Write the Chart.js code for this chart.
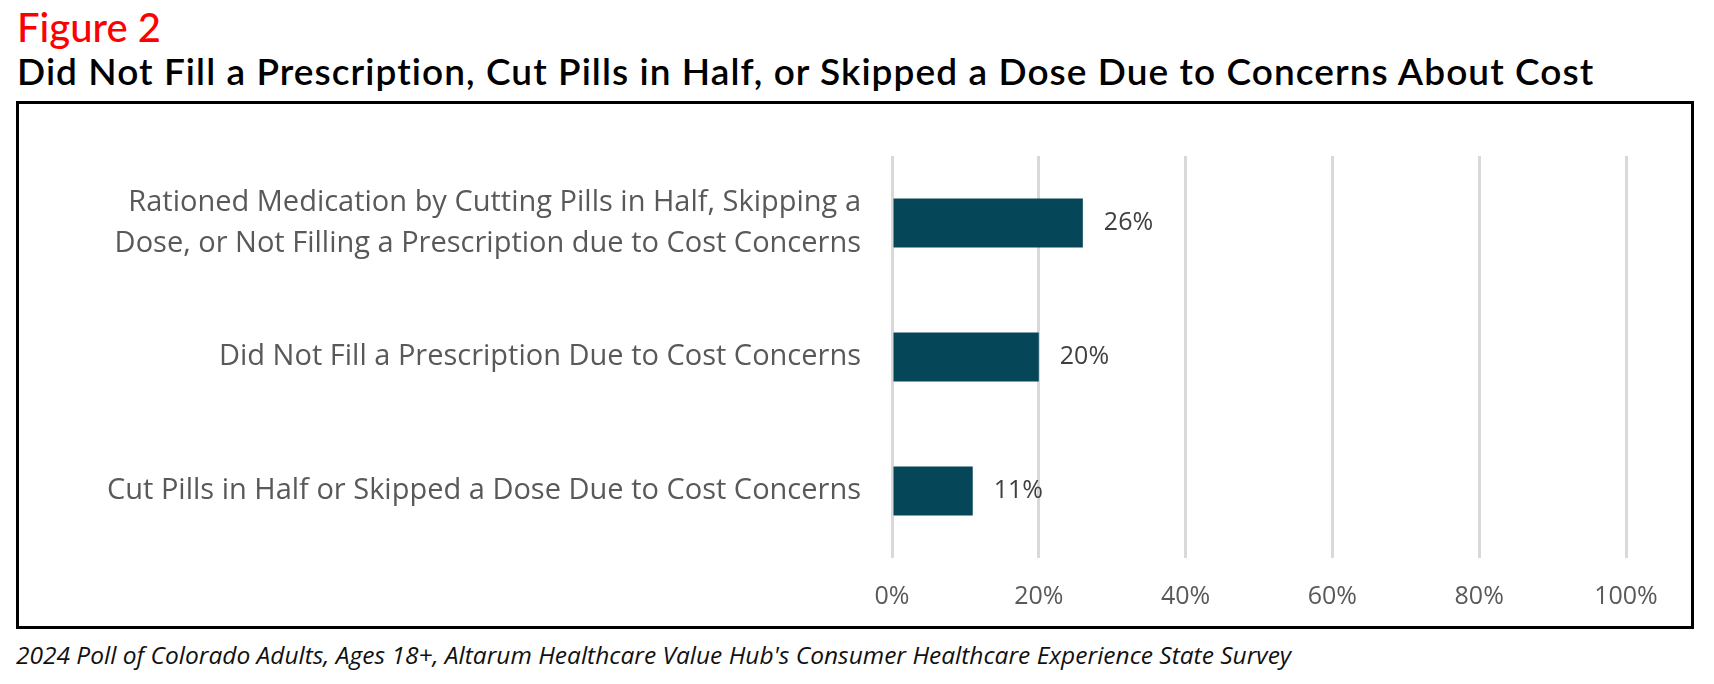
<!DOCTYPE html>
<html>
<head>
<meta charset="utf-8">
<script src="https://cdn.jsdelivr.net/npm/chart.js@4.4.1/dist/chart.umd.min.js"></script>
<style>
html, body { margin: 0; padding: 0; background: #fff; }
#page { position: relative; width: 1714px; height: 684px; overflow: hidden; }
.txt { position: absolute; white-space: nowrap; line-height: 1.2; }
#fig { left: 17px; top: 3px; font-family: Lato; font-size: 40px; font-weight: 500; color: #ff0000; }
#ttl { left: 17px; top: 49px; font-family: Lato; font-size: 37px; font-weight: 600; color: #000; }
#frame { position: absolute; left: 16px; top: 101px; width: 1678px; height: 528px; border: 3px solid #000; box-sizing: border-box; }
#note { left: 16px; top: 640px; font-family: "Open Sans"; font-style: italic; font-size: 24.5px; color: #111; }
#cv { position: absolute; left: 0; top: 0; }
</style>
</head>
<body>
<div id="page">
  <div class="txt" id="fig">Figure 2</div>
  <div class="txt" id="ttl">Did Not Fill a Prescription, Cut Pills in Half, or Skipped a Dose Due to Concerns About Cost</div>
  <div id="frame"></div>
  <div class="txt" id="note">2024 Poll of Colorado Adults, Ages 18+, Altarum Healthcare Value Hub's Consumer Healthcare Experience State Survey</div>
  <canvas id="cv" width="1714" height="684"></canvas>
</div>
<script>
// data
const categories = [
  ['Rationed Medication by Cutting Pills in Half, Skipping a', 'Dose, or Not Filling a Prescription due to Cost Concerns'],
  'Did Not Fill a Prescription Due to Cost Concerns',
  'Cut Pills in Half or Skipped a Dose Due to Cost Concerns'
];
const shares = [26, 20, 11];
const xTicks = [0, 20, 40, 60, 80, 100];

var barColor = '#064659';

// stretch the heading to the width it has in the original
var fitWidth = function (el, target) {
  var w = el.getBoundingClientRect().width;
  var n = el.textContent.length;
  el.style.letterSpacing = ((target - w) / n) + 'px';
};
fitWidth(document.getElementById('ttl'), 1578);

// percent labels at the end of each bar
const barLabels = {
  id: 'barLabels',
  afterDatasetsDraw(chart) {
    var c = chart.ctx;
    var meta = chart.getDatasetMeta(0);
    c.save();
    c.font = '25px "Open Sans"';
    c.fillStyle = '#404040';
    c.textBaseline = 'middle';
    c.textAlign = 'left';
    meta.data.forEach(function (bar, i) {
      c.fillText(shares[i] + '%', bar.x + 21, bar.y);
    });
    c.restore();
  }
};

new Chart(document.getElementById('cv'), {
  type: 'bar',
  data: {
    labels: categories,
    datasets: [{
      data: shares,
      backgroundColor: barColor,
      borderWidth: 0,
      categoryPercentage: 1,
      barPercentage: 0.365
    }]
  },
  options: {
    indexAxis: 'y',
    responsive: false,
    animation: false,
    devicePixelRatio: 1,
    layout: { padding: { left: 0, top: 156, right: 88, bottom: 0 } },
    plugins: {
      legend: { display: false },
      tooltip: { enabled: false }
    },
    scales: {
      x: {
        min: 0,
        max: 100,
        afterBuildTicks: function (s) { s.ticks = xTicks.map(function (v) { return { value: v }; }); },
        afterFit: function (s) { s.height = 126; },
        ticks: {
          callback: function (v) { return v + '%'; },
          font: { family: 'Open Sans', size: 25 },
          color: '#595959',
          padding: 24
        },
        grid: { color: '#d9d9d9', lineWidth: 3, drawTicks: false },
        border: { display: false }
      },
      y: {
        afterFit: function (s) { s.width = 892; },
        ticks: {
          font: { family: 'Open Sans', size: 29, lineHeight: 1.4 },
          color: '#595959',
          padding: 31
        },
        grid: { display: false, drawTicks: false },
        border: { display: false }
      }
    }
  },
  plugins: [barLabels]
});
</script>
</body>
</html>
